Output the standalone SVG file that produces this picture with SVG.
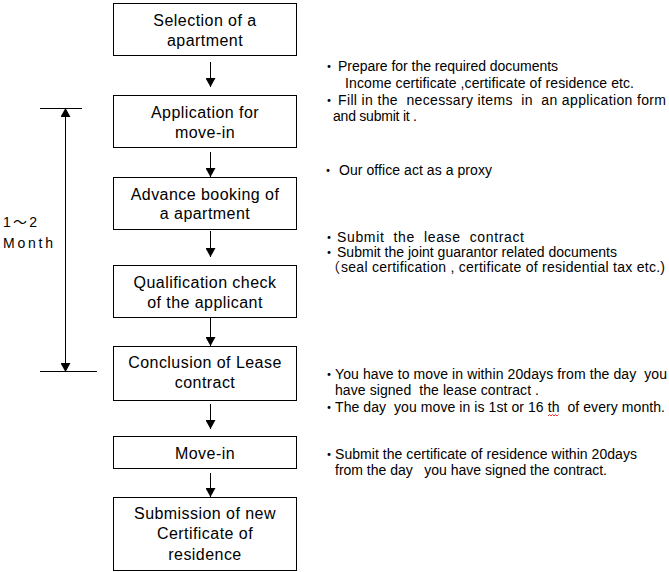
<svg xmlns="http://www.w3.org/2000/svg" width="669" height="572" viewBox="0 0 669 572">
<defs>
<style>
.box{fill:#fff;stroke:#000;stroke-width:1}
.bt{font-family:"Liberation Sans","Noto Sans CJK JP",sans-serif;font-size:16px;letter-spacing:0.45px;fill:#000;text-anchor:middle}
.nt{font-family:"Liberation Sans","Noto Sans CJK JP",sans-serif;font-size:14px;fill:#000;white-space:pre}
.con{stroke:#000;stroke-width:1;fill:none}
</style>
<marker id="ah" markerUnits="userSpaceOnUse" markerWidth="10" markerHeight="10" viewBox="0 0 8 9" refX="8" refY="4.5" orient="auto">
<path d="M0,0 L8,4.5 L0,9 Z" fill="#000"/>
</marker>
</defs>
<rect width="669" height="572" fill="#fff"/>
<g id="connectors">
<line class="con" x1="210.5" y1="62" x2="210.5" y2="87" marker-end="url(#ah)"/>
<line class="con" x1="210.5" y1="152" x2="210.5" y2="177" marker-end="url(#ah)"/>
<line class="con" x1="210.5" y1="231" x2="210.5" y2="257" marker-end="url(#ah)"/>
<line class="con" x1="210.5" y1="318" x2="210.5" y2="346" marker-end="url(#ah)"/>
<line class="con" x1="210.5" y1="404" x2="210.5" y2="429" marker-end="url(#ah)"/>
<line class="con" x1="210.5" y1="473" x2="210.5" y2="497" marker-end="url(#ah)"/>
</g>
<g id="duration">
<line class="con" x1="40" y1="108.5" x2="82" y2="108.5"/>
<line class="con" x1="40" y1="371.5" x2="97" y2="371.5"/>
<line class="con" x1="65.5" y1="240" x2="65.5" y2="108" marker-end="url(#ah)"/>
<line class="con" x1="65.5" y1="240" x2="65.5" y2="372" marker-end="url(#ah)"/>
<text class="nt" x="3" y="227" font-size="13" textLength="34" lengthAdjust="spacing">1～2</text>
<text class="nt" x="3" y="248" font-size="13" textLength="50" lengthAdjust="spacing">Month</text>
</g>
<g id="n1"><rect class="box" x="113.5" y="3.5" width="183" height="52"/>
<text class="bt" x="205" y="26">Selection of a</text><text class="bt" x="205" y="46">apartment</text></g>
<g id="n2"><rect class="box" x="113.5" y="95.5" width="183" height="52"/>
<text class="bt" x="205" y="118">Application for</text><text class="bt" x="205" y="138">move-in</text></g>
<g id="n3"><rect class="box" x="113.5" y="177.5" width="183" height="52"/>
<text class="bt" x="205" y="200">Advance booking of</text><text class="bt" x="205" y="219">a apartment</text></g>
<g id="n4"><rect class="box" x="113.5" y="265.5" width="183" height="52"/>
<text class="bt" x="205" y="288">Qualification check</text><text class="bt" x="205" y="308">of the applicant</text></g>
<g id="n5"><rect class="box" x="113.5" y="346.5" width="183" height="54"/>
<text class="bt" x="205" y="368">Conclusion of Lease</text><text class="bt" x="205" y="388">contract</text></g>
<g id="n6"><rect class="box" x="113.5" y="436.5" width="183" height="32"/>
<text class="bt" x="205" y="459">Move-in</text></g>
<g id="n7"><rect class="box" x="113.5" y="497.5" width="183" height="73"/>
<text class="bt" x="205" y="519">Submission of new</text><text class="bt" x="205" y="539">Certificate of</text><text class="bt" x="205" y="560">residence</text></g>
<g id="notes">
<text class="nt" x="322" y="71">・</text>
<text class="nt" x="338" y="71" textLength="220" lengthAdjust="spacing">Prepare for the required documents</text>
<text class="nt" x="345" y="88" textLength="289" lengthAdjust="spacing">Income certificate ,certificate of residence etc.</text>
<text class="nt" x="322" y="105">・</text>
<text class="nt" x="338" y="105" textLength="328" lengthAdjust="spacing">Fill in the  necessary items  in  an application form</text>
<text class="nt" x="333" y="121" textLength="84" lengthAdjust="spacing">and submit it .</text>
<text class="nt" x="321" y="175">・</text>
<text class="nt" x="339" y="175" textLength="153" lengthAdjust="spacing">Our office act as a proxy</text>
<text class="nt" x="322" y="242">・</text>
<text class="nt" x="337" y="242" textLength="187" lengthAdjust="spacing">Submit  the  lease  contract</text>
<text class="nt" x="322" y="257">・</text>
<text class="nt" x="337" y="257" textLength="280" lengthAdjust="spacing">Submit the joint guarantor related documents</text>
<text class="nt" x="326" y="272">（</text>
<text class="nt" x="341" y="272" textLength="324" lengthAdjust="spacing">seal certification , certificate of residential tax etc.)</text>
<text class="nt" x="322" y="379">・</text>
<text class="nt" x="335" y="379" textLength="332" lengthAdjust="spacing">You have to move in within 20days from the day  you</text>
<text class="nt" x="335" y="395" textLength="204" lengthAdjust="spacing">have signed  the lease contract .</text>
<text class="nt" x="322" y="412">・</text>
<text class="nt" x="335" y="412" textLength="330" lengthAdjust="spacing">The day  you move in is 1st or 16 th  of every month.</text>
<polyline points="548,416 549.5,414.5 551,416 552.5,414.5 554,416 555.5,414.5 557,416 558.5,414.5" fill="none" stroke="#e00" stroke-width="0.8"/>
<text class="nt" x="322" y="459">・</text>
<text class="nt" x="335" y="459" textLength="302" lengthAdjust="spacing">Submit the certificate of residence within 20days</text>
<text class="nt" x="335" y="475" textLength="272" lengthAdjust="spacing">from the day   you have signed the contract.</text>
</g>
</svg>
